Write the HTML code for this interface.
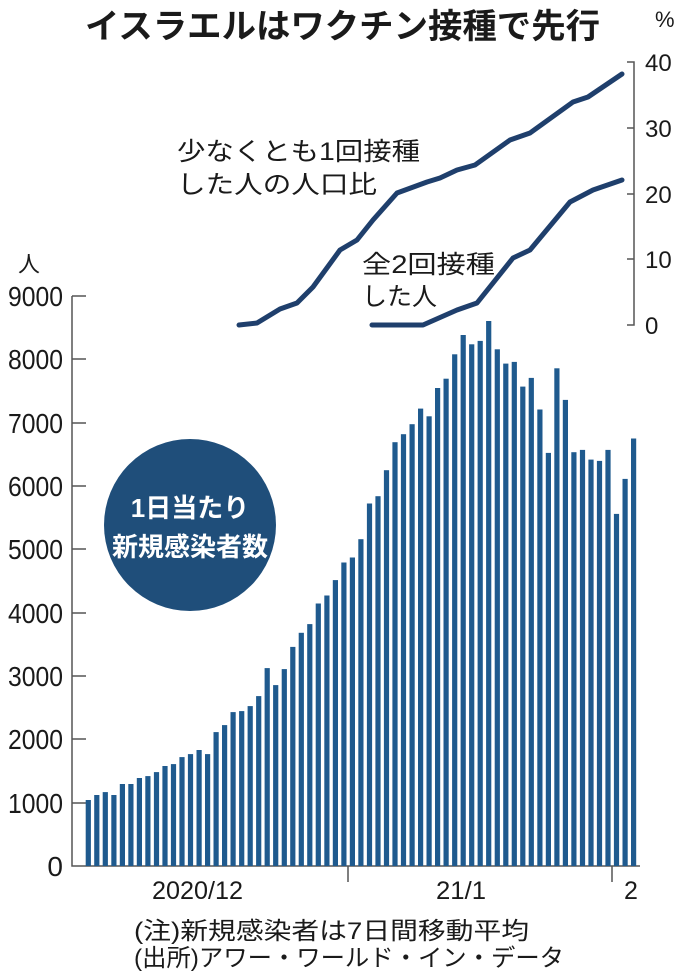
<!DOCTYPE html>
<html><head><meta charset="utf-8"><style>
html,body{margin:0;padding:0;background:#fff;}
svg{display:block;}
text{font-family:"Liberation Sans","Noto Sans CJK JP",sans-serif;fill:#1a1a1a;}
.n{font-family:"Liberation Sans Narrow","Liberation Sans",sans-serif;font-size:25px;}
.j{font-family:"Liberation Sans","Noto Sans CJK JP",sans-serif;font-size:25px;}
</style></head><body>
<svg width="696" height="975" viewBox="0 0 696 975" xmlns="http://www.w3.org/2000/svg">
<text x="85" y="38" style="font-size:34px;font-weight:bold" textLength="515" lengthAdjust="spacingAndGlyphs">イスラエルはワクチン接種で先行</text>
<text x="655" y="27" class="j" style="font-size:22px">%</text>
<g stroke="#555" stroke-width="1.5" fill="none">
<path d="M627 62 H634 V325 H627 M627 128 H634 M627 194 H634 M627 259 H634"/>
</g>
<g class="n" style="font-size:24px">
<text x="645" y="71">40</text>
<text x="645" y="137">30</text>
<text x="645" y="203">20</text>
<text x="645" y="268">10</text>
<text x="645" y="334">0</text>
</g>
<g fill="none" stroke="#1f3f6c" stroke-width="5" stroke-linecap="round" stroke-linejoin="round">
<polyline points="239,325 257,323 280,309 297,303 313,287 340,250 357,240 373,220 397,193 427,182 440,178 457,170 475,165 510,140 530,133 573,102 588,97 622,74"/>
<polyline points="372,325 423,325 457,310 477,303 513,258 530,250 570,202 593,190 622,180"/>
</g>
<text x="177" y="160" class="j" style="font-size:25px" textLength="243" lengthAdjust="spacingAndGlyphs">少なくとも1回接種</text>
<text x="177" y="193" class="j" style="font-size:25px" textLength="200" lengthAdjust="spacingAndGlyphs">した人の人口比</text>
<text x="362" y="273" class="j" style="font-size:25px" textLength="133" lengthAdjust="spacingAndGlyphs">全2回接種</text>
<text x="362" y="305" class="j" style="font-size:25px">した人</text>
<text x="18" y="272" class="j" style="font-size:22px">人</text>
<g stroke="#555" stroke-width="1.5" fill="none">
<path d="M72 296 V866 H640"/>
<path d="M72 296 H86 M72 359 H86 M72 423 H86 M72 486 H86 M72 549 H86 M72 613 H86 M72 676 H86 M72 739 H86 M72 803 H86"/>
<path d="M348 866 V882 M612 866 V882"/>
</g>
<g class="n" text-anchor="end" style="font-size:28px">
<text x="63" y="306" textLength="55" lengthAdjust="spacingAndGlyphs">9000</text>
<text x="63" y="369" textLength="55" lengthAdjust="spacingAndGlyphs">8000</text>
<text x="63" y="433" textLength="55" lengthAdjust="spacingAndGlyphs">7000</text>
<text x="63" y="496" textLength="55" lengthAdjust="spacingAndGlyphs">6000</text>
<text x="63" y="559" textLength="55" lengthAdjust="spacingAndGlyphs">5000</text>
<text x="63" y="623" textLength="55" lengthAdjust="spacingAndGlyphs">4000</text>
<text x="63" y="686" textLength="55" lengthAdjust="spacingAndGlyphs">3000</text>
<text x="63" y="749" textLength="55" lengthAdjust="spacingAndGlyphs">2000</text>
<text x="63" y="813" textLength="55" lengthAdjust="spacingAndGlyphs">1000</text>
<text x="63" y="876">0</text>
</g>
<g id="bars" fill="#1f5a8e"></g>
<circle cx="190" cy="525" r="86" fill="#1f4e7a"/>
<text x="190" y="517" text-anchor="middle" style="font-size:26px;font-weight:bold;fill:#fff">1日当たり</text>
<text x="190" y="556" text-anchor="middle" style="font-size:26px;font-weight:bold;fill:#fff">新規感染者数</text>
<text x="152" y="899" class="n" textLength="91" lengthAdjust="spacingAndGlyphs">2020/12</text>
<text x="436" y="899" class="n" textLength="50" lengthAdjust="spacingAndGlyphs">21/1</text>
<text x="624" y="899" class="n">2</text>
<text x="134" y="939" class="j" style="font-size:24px" textLength="395" lengthAdjust="spacingAndGlyphs">(注)新規感染者は7日間移動平均</text>
<text x="134" y="966" class="j" style="font-size:24px" textLength="430" lengthAdjust="spacingAndGlyphs">(出所)アワー・ワールド・イン・データ</text>
</svg>
<script>
var v=[1042,1121,1168,1121,1295,1295,1390,1420,1484,1579,1610,1721,1768,1832,1768,2116,2226,2432,2447,2526,2684,3126,2858,3110,3461,3684,3821,4147,4274,4516,4795,4874,5163,5726,5842,6253,6695,6821,6979,7226,7105,7551,7698,8084,8389,8242,8295,8610,8163,7937,7963,7574,7711,7211,6526,7863,7363,6537,6574,6421,6400,6574,5563,6116,6753];
var g=document.getElementById('bars'),s='';
for(var i=0;i<v.length;i++){var x=88.3+8.52*i-2.6,h=v[i]*0.0633;s+='<rect x="'+x.toFixed(1)+'" y="'+(866-h).toFixed(1)+'" width="5.2" height="'+h.toFixed(1)+'"/>';}
g.innerHTML=s;
</script>
</body></html>
